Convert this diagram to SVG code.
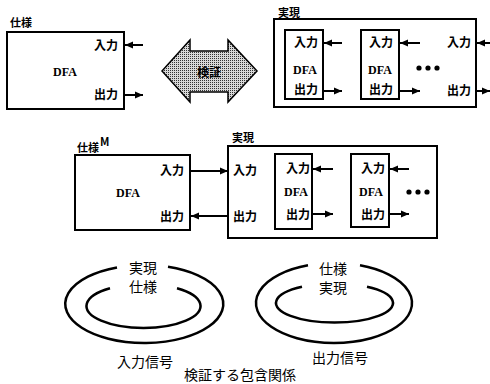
<svg xmlns="http://www.w3.org/2000/svg" width="490" height="384" viewBox="0 0 490 384">
<style>
.box{fill:none;stroke:#000;stroke-width:2}
.jp{font-family:"Noto Sans CJK JP","Noto Sans",sans-serif;font-weight:bold;font-size:12px;fill:#000;text-anchor:middle}
.lbl{font-family:"Noto Sans CJK JP","Noto Sans",sans-serif;font-weight:bold;font-size:11px;fill:#000}
.dfa{font-family:"Liberation Serif",serif;font-weight:bold;font-size:12px;fill:#000;text-anchor:middle}
.big{font-family:"Noto Sans CJK JP","Noto Sans",sans-serif;font-size:14px;fill:#000;text-anchor:middle}
.ar{stroke:#000;stroke-width:2;fill:none;marker-end:url(#ah)}
.ring{fill:none;stroke:#000;stroke-width:2.5}
</style>
<defs>
<marker id="ah" markerUnits="userSpaceOnUse" markerWidth="9" markerHeight="8" refX="8" refY="4" orient="auto">
<path d="M0,0.5 L8,4 L0,7.5 z" fill="#000"/>
</marker>
<pattern id="dots" width="2" height="2" patternUnits="userSpaceOnUse">
<rect width="2" height="2" fill="#d8d8d8"/>
<rect width="1" height="1" fill="#333"/>
</pattern>
</defs>

<g id="spec-top">
<text class="lbl" x="10" y="27">仕様</text>
<rect class="box" x="7" y="32" width="117" height="77"/>
<text class="jp" x="106" y="50">入力</text>
<text class="dfa" x="65" y="76">DFA</text>
<text class="jp" x="106" y="99">出力</text>
</g>

<g id="verify">
<polygon points="162,71 190,40 190,51 228,51 228,40 257,71 228,102 228,92 190,92 190,102" fill="url(#dots)" stroke="#000" stroke-width="1.5"/>
<text class="jp" x="209" y="77" font-size="14">検証</text>
</g>

<g id="impl-top">
<text class="lbl" x="278" y="17">実現</text>
<rect class="box" x="274" y="19" width="202" height="88"/>
<rect class="box" x="285" y="30" width="38" height="69"/>
<text class="jp" x="306" y="47">入力</text>
<text class="dfa" x="305" y="74">DFA</text>
<text class="jp" x="306" y="94">出力</text>
<rect class="box" x="361" y="30" width="38" height="69"/>
<text class="jp" x="381" y="47">入力</text>
<text class="dfa" x="380" y="74">DFA</text>
<text class="jp" x="381" y="94">出力</text>
<circle cx="419" cy="68" r="2.6"/>
<circle cx="428" cy="68" r="2.6"/>
<circle cx="437" cy="68" r="2.6"/>
<text class="jp" x="459" y="47">入力</text>
<text class="jp" x="459" y="95">出力</text>
</g>

<g id="spec-mid">
<text class="lbl" x="77" y="152">仕様</text>
<text class="lbl" x="100" y="146" font-size="9" font-weight="normal">M</text>
<rect class="box" x="75" y="155" width="115" height="75"/>
<text class="jp" x="172" y="175">入力</text>
<text class="dfa" x="128" y="197">DFA</text>
<text class="jp" x="172" y="221">出力</text>
</g>

<g id="impl-mid">
<text class="lbl" x="232" y="142">実現</text>
<rect class="box" x="228" y="146" width="209" height="92"/>
<text class="jp" x="245" y="175">入力</text>
<text class="jp" x="245" y="221">出力</text>
<rect class="box" x="275" y="154" width="37" height="75"/>
<text class="jp" x="298" y="173">入力</text>
<text class="dfa" x="296" y="196">DFA</text>
<text class="jp" x="298" y="219">出力</text>
<rect class="box" x="351" y="154" width="38" height="73"/>
<text class="jp" x="373" y="173">入力</text>
<text class="dfa" x="371" y="196">DFA</text>
<text class="jp" x="373" y="219">出力</text>
<circle cx="409" cy="192" r="2.6"/>
<circle cx="418" cy="192" r="2.6"/>
<circle cx="427" cy="192" r="2.6"/>
</g>

<g id="connectors">
<line class="ar" x1="143" y1="45" x2="125" y2="45"/>
<line class="ar" x1="125" y1="95" x2="143" y2="95"/>
<line class="ar" x1="342" y1="43" x2="324" y2="43"/>
<line class="ar" x1="324" y1="91" x2="342" y2="91"/>
<line class="ar" x1="420" y1="43" x2="400" y2="43"/>
<line class="ar" x1="400" y1="91" x2="420" y2="91"/>
<line class="ar" x1="492" y1="43" x2="477" y2="43"/>
<line class="ar" x1="477" y1="91" x2="490" y2="91"/>
<line class="ar" x1="191" y1="171" x2="228" y2="171"/>
<line class="ar" x1="227" y1="216" x2="191" y2="216"/>
<line class="ar" x1="333" y1="169" x2="313" y2="169"/>
<line class="ar" x1="313" y1="214" x2="333" y2="214"/>
<line class="ar" x1="409" y1="169" x2="390" y2="169"/>
<line class="ar" x1="390" y1="214" x2="409" y2="214"/>
</g>

<g id="input-signal">
<path class="ring" d="M117,267.4 A79,39 0 1 0 168,266.8"/>
<path class="ring" d="M110,288.2 A57,22 0 1 0 177,288.2"/>
<text class="big" x="143" y="273" font-size="12.5">実現</text>
<text class="big" x="143" y="291.5" font-size="12.5">仕様</text>
<text class="big" x="145" y="367">入力信号</text>
</g>

<g id="output-signal">
<path class="ring" d="M308,265.3 A78,40 0 1 0 360,265.3"/>
<path class="ring" d="M302,286.8 A58.5,19.5 0 1 0 367,286.8"/>
<text class="big" x="333" y="273.5" font-size="12.5">仕様</text>
<text class="big" x="333" y="292.5" font-size="12.5">実現</text>
<text class="big" x="340" y="363">出力信号</text>
</g>

<text class="big" x="240" y="380">検証する包含関係</text>
</svg>
